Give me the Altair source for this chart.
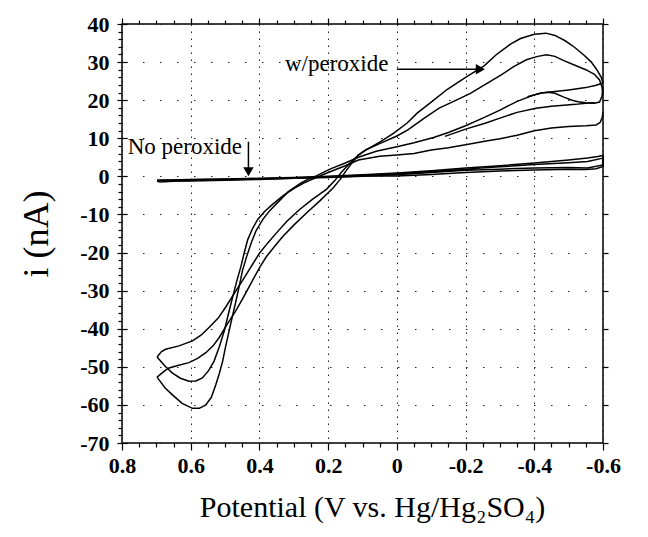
import altair as alt
import pandas as pd

# ---------------- data ----------------
# w/peroxide, outer loop: vertex B -> shallow branch -> crossing -> top hump -> -0.6 V
t1_v = [0.698, 0.675, 0.663, 0.635, 0.605, 0.58, 0.556, 0.535, 0.517, 0.495, 0.468, 0.445, 0.42, 0.40, 0.38,
        0.355, 0.332, 0.30, 0.263, 0.225, 0.185, 0.165, 0.149, 0.13, 0.112, 0.088, 0.05, 0.01, -0.03, -0.059,
        -0.1, -0.146, -0.2, -0.254, -0.29, -0.332, -0.36, -0.40, -0.434, -0.46, -0.49, -0.517, -0.545, -0.566,
        -0.582, -0.595, -0.6]
t1_i = [-52.7, -51.0, -50.3, -49.6, -48.9, -47.8, -46.3, -44.5, -42.3, -39.0, -35.2, -31.5, -27.3, -24.0, -21.1,
        -18.3, -15.8, -12.8, -9.6, -6.5, -3.0, -0.8, 1.3, 3.6, 5.6, 7.0, 9.0, 11.3, 14.0, 16.6,
        19.5, 22.8, 26.0, 29.0, 32.0, 34.8, 36.2, 37.3, 37.6, 37.0, 35.6, 33.9, 31.8, 30.0,
        28.0, 26.0, 24.5]

# second loop: vertex A -> shallow branch -> crossing -> second hump -> -0.6 V
t2_v = [0.698, 0.685, 0.673, 0.634, 0.595, 0.57, 0.546, 0.52, 0.498, 0.475, 0.449, 0.425, 0.40, 0.375, 0.351,
        0.32, 0.283, 0.245, 0.205, 0.18, 0.16, 0.14, 0.112, 0.09, 0.05, 0.0, -0.032, -0.08, -0.123, -0.17,
        -0.214, -0.26, -0.305, -0.34, -0.377, -0.41, -0.436, -0.46, -0.486, -0.52, -0.55, -0.575, -0.59,
        -0.597, -0.6]
t2_i = [-47.4, -46.0, -45.4, -44.5, -43.2, -41.7, -39.6, -37.2, -34.3, -31.0, -27.3, -23.8, -20.2, -17.4, -14.9,
        -11.8, -8.7, -6.0, -3.4, -1.0, 1.2, 3.2, 5.6, 7.0, 8.6, 10.6, 12.2, 15.3, 17.9, 19.9,
        21.8, 24.3, 26.7, 28.8, 30.6, 31.5, 31.9, 31.5, 30.4, 29.1, 28.0, 26.8, 25.3,
        23.5, 21.5]

# vertex B -> deepest reduction peak -> low branch -> small hump -> -0.6 V
db_v = [0.698, 0.675, 0.654, 0.625, 0.595, 0.575, 0.556, 0.54, 0.527, 0.517, 0.507, 0.498, 0.488, 0.478, 0.468,
        0.458, 0.449, 0.437, 0.424, 0.41, 0.39, 0.37, 0.341, 0.316, 0.28, 0.255, 0.233, 0.195, 0.15, 0.112,
        0.06, 0.0, -0.05, -0.107, -0.15, -0.2, -0.25, -0.3, -0.35, -0.4, -0.42, -0.44, -0.46, -0.486, -0.51,
        -0.527, -0.55, -0.575, -0.59, -0.597, -0.6]
db_i = [-52.7, -55.5, -57.3, -59.6, -60.9, -60.9, -60.0, -58.0, -54.7, -51.8, -48.5, -44.5, -40.5, -36.5, -32.6,
        -28.5, -24.6, -21.0, -17.5, -14.3, -11.3, -9.0, -6.3, -4.0, -1.8, -0.6, 0.2, 1.9, 3.5, 5.0,
        6.6, 7.8, 8.8, 10.2, 11.5, 13.3, 15.3, 17.4, 19.7, 21.4, 21.9, 22.1, 21.8, 20.8, 20.0,
        19.6, 19.3, 19.2, 19.5, 21.0, 23.5]

# rising branch to -0.6 V at ~24 nA
l4_v = [-0.38, -0.42, -0.46, -0.50, -0.55, -0.58, -0.6]
l4_i = [20.9, 21.9, 22.3, 22.7, 23.3, 23.9, 24.5]

# scan starting near -0.14 V
l5_v = [-0.14, -0.2, -0.259, -0.3, -0.35, -0.405, -0.45, -0.486, -0.52, -0.55, -0.575]
l5_i = [10.5, 12.4, 14.0, 15.3, 16.8, 17.9, 18.4, 18.7, 18.9, 19.2, 19.3]

# vertex A -> second reduction peak -> lowest w/peroxide branch -> -0.6 V
da_v = [0.698, 0.675, 0.654, 0.63, 0.605, 0.585, 0.566, 0.548, 0.532, 0.517, 0.502, 0.49, 0.478, 0.466, 0.454,
        0.444, 0.434, 0.42, 0.405, 0.385, 0.361, 0.33, 0.30, 0.27, 0.24, 0.2, 0.15, 0.112, 0.05, 0.0,
        -0.05, -0.1, -0.15, -0.2, -0.26, -0.3, -0.35, -0.4, -0.45, -0.5, -0.55, -0.58, -0.592, -0.598, -0.6]
da_i = [-47.4, -49.8, -51.6, -53.0, -53.8, -53.7, -52.9, -51.0, -48.5, -44.8, -40.5, -36.0, -31.7, -27.5, -23.7,
        -20.0, -16.6, -13.7, -11.3, -9.2, -7.3, -5.0, -3.2, -1.7, -0.5, 1.0, 2.8, 4.3, 5.3, 5.6,
        6.0, 6.9, 7.5, 8.3, 9.3, 9.9, 10.8, 12.0, 12.7, 13.1, 13.3, 13.5, 14.2, 15.5, 17.0]

# no peroxide: two thin loops near zero
np1_v = [0.698, 0.69, 0.65, 0.6, 0.5, 0.4, 0.3, 0.2, 0.1, 0.0, -0.1, -0.2, -0.3, -0.4, -0.5, -0.55, -0.58, -0.6,
         -0.6, -0.585, -0.555, -0.5, -0.4, -0.3, -0.2, -0.1, 0.0, 0.1, 0.2, 0.3, 0.4, 0.5, 0.6, 0.698]
np1_i = [-1.2, -1.5, -1.3, -1.2, -1.0, -0.8, -0.5, -0.2, 0.1, 0.1, 0.5, 1.0, 1.4, 1.7, 1.9, 1.8, 2.0, 2.6,
         5.5, 5.2, 4.8, 4.3, 3.5, 2.8, 2.2, 1.5, 0.9, 0.4, 0.0, -0.3, -0.5, -0.7, -0.8, -1.0]
np2_v = [0.698, 0.6, 0.5, 0.4, 0.3, 0.2, 0.1, 0.0, -0.1, -0.2, -0.3, -0.4, -0.5, -0.555, -0.6,
         -0.6, -0.555, -0.5, -0.4, -0.3, -0.2, -0.1, 0.0, 0.2, 0.4, 0.6, 0.698]
np2_i = [-1.0, -1.0, -0.9, -0.7, -0.5, -0.3, 0.0, 0.4, 1.0, 1.6, 1.9, 2.2, 2.3, 2.2, 3.0,
         4.8, 3.9, 3.6, 3.1, 2.5, 1.9, 1.3, 0.7, -0.1, -0.6, -0.9, -1.1]

curves = {"T1": (t1_v, t1_i), "T2": (t2_v, t2_i), "DB": (db_v, db_i), "L4": (l4_v, l4_i),
          "L5": (l5_v, l5_i), "DA": (da_v, da_i), "NP1": (np1_v, np1_i), "NP2": (np2_v, np2_i)}

# axis tick values
x_major = [0.8, 0.6, 0.4, 0.2, 0.0, -0.2, -0.4, -0.6]
x_minor = [0.75, 0.7, 0.65, 0.55, 0.5, 0.45, 0.35, 0.3, 0.25, 0.15, 0.1, 0.05,
           -0.05, -0.1, -0.15, -0.25, -0.3, -0.35, -0.45, -0.5, -0.55]
y_major = [40, 30, 20, 10, 0, -10, -20, -30, -40, -50, -60, -70]
y_minor = [38, 36, 34, 32, 28, 26, 24, 22, 18, 16, 14, 12, 8, 6, 4, 2, -2, -4, -6, -8,
           -12, -14, -16, -18, -22, -24, -26, -28, -32, -34, -36, -38, -42, -44, -46, -48,
           -52, -54, -56, -58, -62, -64, -66, -68]

# annotations
ann_text = ["w/peroxide", "No peroxide"]
ann_x = [0.175, 0.617]
ann_y = [29.4, 7.8]
arrow_x1 = [0.0, 0.432]
arrow_x2 = [-0.235, 0.432]
arrow_y1 = [28.1, 9.1]
arrow_y2 = [28.1, 2.2]
head_x = [-0.243, 0.432]
head_y = [28.1, 1.2]
head_shape = ["triangle-right", "triangle-down"]

# ---------------- build tables ----------------
rows = []
for name, (vs, cs) in curves.items():
    for k, (v, c) in enumerate(zip(vs, cs)):
        rows.append({"path": name, "idx": k, "v": v, "i": c})
df = pd.DataFrame(rows)
txt_df = pd.DataFrame({"t": ann_text, "x": ann_x, "y": ann_y})
arr_df = pd.DataFrame({"x1": arrow_x1, "x2": arrow_x2, "y1": arrow_y1, "y2": arrow_y2})
head_df = pd.DataFrame({"x": head_x, "y": head_y, "s": head_shape})

W, H = 481, 419
FONT = "Liberation Serif"
xs = alt.Scale(domain=[-0.6, 0.8], reverse=True, nice=False, zero=False)
ys = alt.Scale(domain=[-70, 40], nice=False, zero=False)


def tick_axis(orient, values, size, **kw):
    return alt.Axis(orient=orient, values=values, labels=False, title=None, grid=False,
                    domain=False, ticks=True, tickSize=size, tickColor="black", tickWidth=1.2, **kw)


x_main = alt.Axis(orient="bottom", values=x_major,
                  labelExpr="datum.value == 0 ? '0' : toString(round(datum.value*10)/10)",
                  labelFont=FONT, labelFontWeight="bold", labelFontSize=22, labelColor="black",
                  labelPadding=5, labelFlush=False, labelOverlap=False,
                  tickSize=7, tickColor="black", tickWidth=1.2, domain=False,
                  grid=True, gridColor="#222", gridDash=[1.5, 5.5], gridWidth=1,
                  title="Potential (V vs. Hg/Hg₂SO₄)", titleFont=FONT, titleFontWeight="normal",
                  titleFontSize=30, titleColor="black", titleX=250, titleY=73,
                  titleBaseline="alphabetic", titleAlign="center")
y_main = alt.Axis(orient="left", values=y_major, labelExpr="toString(datum.value)",
                  labelFont=FONT, labelFontWeight="bold", labelFontSize=22, labelColor="black",
                  labelPadding=8, labelFlush=False, labelOverlap=False,
                  tickSize=5, tickColor="black", tickWidth=1.2, domain=False,
                  grid=True, gridColor="#222", gridDash=[1.5, 15.5], gridWidth=1,
                  title="i (nA)", titleFont=FONT, titleFontWeight="normal", titleFontSize=36,
                  titleColor="black", titleAngle=270, titleX=-86, titleY=H / 2,
                  titleBaseline="middle", titleAlign="center")

lines = alt.Chart(df).mark_line(color="black", strokeWidth=1.5).encode(
    x=alt.X("v:Q", scale=xs, axis=x_main),
    y=alt.Y("i:Q", scale=ys, axis=y_main),
    detail="path:N",
    order=alt.Order("idx:Q"),
)

ghost = alt.Chart(df).mark_point(opacity=0)
minor_bl = ghost.encode(x=alt.X("v:Q", scale=xs, axis=tick_axis("bottom", x_minor, 4)),
                        y=alt.Y("i:Q", scale=ys, axis=tick_axis("left", y_minor, 4)))
top_r = ghost.encode(x=alt.X("v:Q", scale=xs, axis=tick_axis("top", x_minor, 4)),
                     y=alt.Y("i:Q", scale=ys, axis=tick_axis("right", y_major, 5)))
top_in = ghost.encode(x=alt.X("v:Q", scale=xs, axis=tick_axis("top", x_major, 6)),
                      y=alt.Y("i:Q", scale=ys, axis=tick_axis("right", y_major, 5, offset=-W)))

texts = alt.Chart(txt_df).mark_text(font=FONT, fontSize=23, color="black",
                                    align="center", baseline="middle").encode(
    x=alt.X("x:Q", scale=xs, axis=None), y=alt.Y("y:Q", scale=ys, axis=None), text="t:N")
shafts = alt.Chart(arr_df).mark_rule(color="black", strokeWidth=1.5).encode(
    x=alt.X("x1:Q", scale=xs, axis=None), x2="x2:Q",
    y=alt.Y("y1:Q", scale=ys, axis=None), y2="y2:Q")
heads = alt.Chart(head_df).mark_point(filled=True, color="black", size=110, opacity=1).encode(
    x=alt.X("x:Q", scale=xs, axis=None), y=alt.Y("y:Q", scale=ys, axis=None),
    shape=alt.Shape("s:N", scale=None))

chart = alt.layer(lines, minor_bl, top_r, top_in, shafts, heads, texts).resolve_axis(
    x="independent", y="independent"
).properties(
    width=W, height=H,
    autosize=alt.AutoSizeParams(type="none"),
    padding={"left": 114, "top": 16, "right": 30, "bottom": 82},
    background="white",
).configure_view(stroke="black", strokeWidth=1.5)

chart.save("out.html", embed_options={"renderer": "svg", "actions": False})
